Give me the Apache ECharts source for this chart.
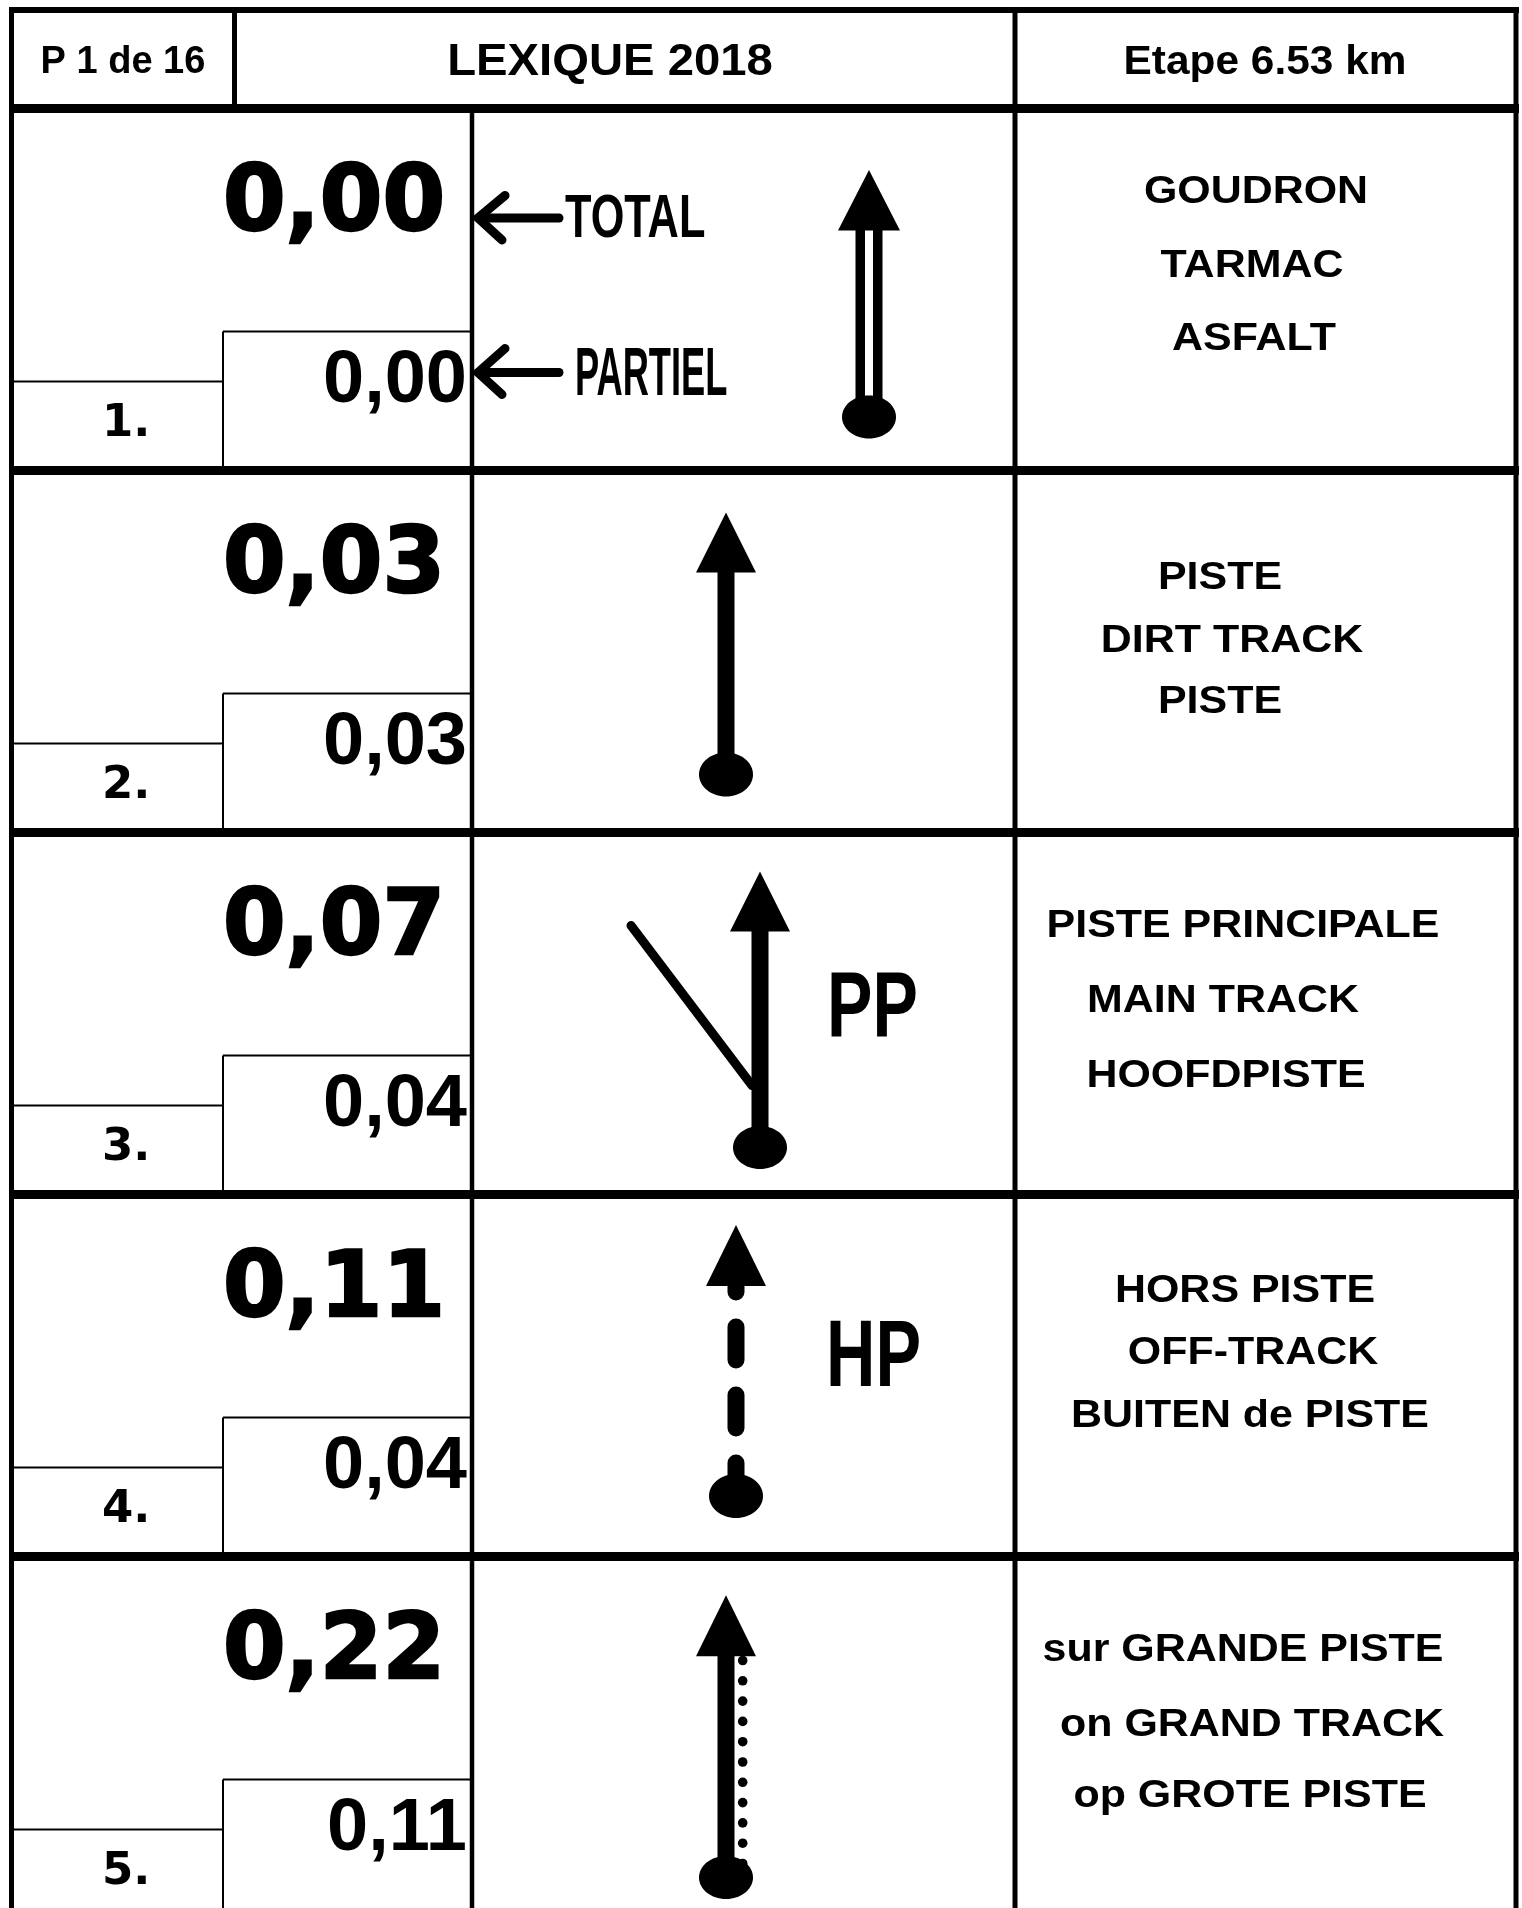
<!DOCTYPE html>
<html>
<head>
<meta charset="utf-8">
<title>LEXIQUE 2018</title>
<script src="https://cdn.jsdelivr.net/npm/echarts@6/dist/echarts.min.js"></script>
<style>
html, body { margin: 0; padding: 0; background: #fff; }
#main { width: 1522px; height: 1908px; }
</style>
</head>
<body>
<div id="main"></div>
<script>
// donnees du roadbook
var rowNumbers = ['1.', '2.', '3.', '4.', '5.'];
var totalKm = [0.00, 0.03, 0.07, 0.11, 0.22];
var partialKm = [0.00, 0.03, 0.04, 0.04, 0.11];
var roadTypes = ['goudron', 'piste', 'pistePrincipale', 'horsPiste', 'grandePiste'];
var roadCodes = ['', '', 'PP', 'HP', ''];
var descriptions = [
    ['GOUDRON', 'TARMAC', 'ASFALT'],
    ['PISTE', 'DIRT TRACK', 'PISTE'],
    ['PISTE PRINCIPALE', 'MAIN TRACK', 'HOOFDPISTE'],
    ['HORS PISTE', 'OFF-TRACK', 'BUITEN de PISTE'],
    ['sur GRANDE PISTE', 'on GRAND TRACK', 'op GROTE PISTE']
];
var headerTexts = ['P 1 de 16', 'LEXIQUE 2018', 'Etape 6.53 km'];
var legendTexts = ['TOTAL', 'PARTIEL'];

// mise en page des lignes de texte (centre x, decalage de la ligne de base)
var descLayout = [
    [[1256, 94.5], [1252, 168.5], [1254, 241.5]],
    [[1220, 119], [1232, 182], [1220, 243]],
    [[1243, 105], [1223, 180], [1226, 255]],
    [[1245, 107.5], [1253, 169.5], [1250, 232.5]],
    [[1243, 105], [1252, 180], [1250, 251]]
];

var TOP = 108.5;      // bas de l'entete
var PITCH = 362;      // hauteur d'une case
var DEJAVU = '"DejaVu Sans"';
var LIBER = '"Liberation Sans"';
// ecart entre milieu et ligne de base, par police
var MID = { '"DejaVu Sans"': 0.245, '"Liberation Sans"': 0.285 };

function km(v) {
    return v.toFixed(2).replace('.', ',');
}

function seg(x1, y1, x2, y2, w, extra) {
    var style = { stroke: '#000', lineWidth: w };
    for (var k in extra) { style[k] = extra[k]; }
    return { type: 'line', silent: true, shape: { x1: x1, y1: y1, x2: x2, y2: y2 }, style: style };
}

function txt(str, x, baseline, size, family, align, sx, heavy) {
    var style = {
        text: str, x: 0, y: 0, fill: '#000',
        font: 'bold ' + size + 'px ' + family,
        align: align, textAlign: align,
        verticalAlign: 'middle', textVerticalAlign: 'middle'
    };
    if (heavy) {
        style.stroke = '#000';
        style.lineWidth = heavy;
    }
    return {
        type: 'text', silent: true,
        x: x, y: baseline - MID[family] * size, scaleX: sx || 1,
        style: style
    };
}

function head(cx, tip, base, half) {
    return { type: 'polygon', silent: true, shape: { points: [[cx, tip], [cx - half, base], [cx + half, base]] }, style: { fill: '#000' } };
}

function knob(cx, cy, rx, ry) {
    return { type: 'ellipse', silent: true, shape: { cx: cx, cy: cy, rx: rx, ry: ry }, style: { fill: '#000' } };
}

function rect(x, y, w, h, color) {
    return { type: 'rect', silent: true, shape: { x: x, y: y, width: w, height: h }, style: { fill: color } };
}

// symbole de la case centrale
function roadSymbol(type, top, px) {
    var c = [];
    if (type === 'goudron') {
        var cx = px(869), dy = top + 308.5;
        c.push(rect(cx - 13.5, top + 120, 27, dy - top - 120, '#000'));
        c.push(rect(cx - 4, top + 121, 8, dy - top - 135, '#fff'));
        c.push(head(cx, top + 61.5, top + 122, 31));
        c.push(knob(cx, dy, 27, 21.5));
    } else if (type === 'piste') {
        var cx2 = px(726);
        c.push(seg(cx2, top + 100, cx2, top + 304, 17));
        c.push(head(cx2, top + 42, top + 102, 30));
        c.push(knob(cx2, top + 304, 27, 22));
    } else if (type === 'pistePrincipale') {
        var cx3 = px(760);
        c.push(seg(px(631), top + 93, px(752), top + 253, 9, { lineCap: 'round' }));
        c.push(seg(cx3, top + 97, cx3, top + 315, 17));
        c.push(head(cx3, top + 39, top + 99, 30));
        c.push(knob(cx3, top + 315, 27, 21.5));
    } else if (type === 'horsPiste') {
        var cx4 = px(736);
        c.push(seg(cx4, top + 64.5, cx4, top + 301.5, 17, { lineCap: 'round', lineDash: [33, 35] }));
        c.push(head(cx4, top + 30.5, top + 91.5, 30));
        c.push(knob(cx4, top + 301.5, 27, 22));
    } else if (type === 'grandePiste') {
        var cx5 = px(726);
        for (var d = 104; d < 312; d += 20.3) {
            c.push({ type: 'circle', silent: true, shape: { cx: px(742.7), cy: top + d, r: 4.8 }, style: { fill: '#000' } });
        }
        c.push(seg(cx5, top + 97, cx5, top + 321, 17));
        c.push(head(cx5, top + 38.7, top + 99.7, 30));
        c.push(knob(cx5, top + 321, 27, 21.5));
    }
    return c;
}

function renderRow(params, api) {
    var i = params.dataIndex;
    var top = api.coord([0, i])[1];
    var bottom = api.coord([0, i + 1])[1];
    var px = function (x) { return api.coord([x, i])[0]; };
    var c = [];

    // cadre de la case
    c.push(seg(px(11.5), top, px(11.5), bottom, 5));
    c.push(seg(px(472), top, px(472), bottom, 4.5));
    c.push(seg(px(1015), top, px(1015), bottom, 5));
    c.push(seg(px(1516), top, px(1516), bottom, 5));
    c.push(seg(px(223), top + 223, px(472), top + 223, 2));
    c.push(seg(px(223), top + 223, px(223), bottom, 2));
    c.push(seg(px(11.5), top + 273, px(223), top + 273, 2));
    c.push(seg(px(9), top, px(1519), top, 9));

    // distances
    c.push(txt(km(totalKm[i]), px(445), top + 120, 90, DEJAVU, 'right', 1, 2.5));
    c.push(txt(km(partialKm[i]), px(467), top + 294, 74, LIBER, 'right'));
    c.push(txt(rowNumbers[i], px(102), top + 327, 45, DEJAVU, 'left'));

    // legende TOTAL / PARTIEL sur la premiere case
    if (i === 0) {
        var round = { lineCap: 'round', lineJoin: 'miter' };
        c.push({ type: 'polyline', silent: true, shape: { points: [[px(505), top + 87], [px(478), top + 109.5], [px(502), top + 131.5]] }, style: { stroke: '#000', lineWidth: 9, fill: null, lineCap: 'round' } });
        c.push(seg(px(480), top + 109.5, px(559), top + 109.5, 9, round));
        c.push(txt(legendTexts[0], px(565), top + 129, 61, LIBER, 'left', 0.71));
        c.push({ type: 'polyline', silent: true, shape: { points: [[px(505), top + 240], [px(478), top + 264], [px(502), top + 286]] }, style: { stroke: '#000', lineWidth: 9, fill: null, lineCap: 'round' } });
        c.push(seg(px(480), top + 264, px(559), top + 264, 9, round));
        c.push(txt(legendTexts[1], px(575), top + 287, 69, LIBER, 'left', 0.525));
    }

    c = c.concat(roadSymbol(roadTypes[i], top, px));
    if (roadCodes[i] === 'PP') {
        c.push(txt(roadCodes[i], px(827), top + 205, 92, LIBER, 'left', 0.74));
    } else if (roadCodes[i]) {
        c.push(txt(roadCodes[i], px(826), top + 192, 95, LIBER, 'left', 0.72));
    }

    // description trilingue
    for (var k = 0; k < descriptions[i].length; k++) {
        var lay = descLayout[i][k];
        c.push(txt(descriptions[i][k], px(lay[0]), top + lay[1], 38, LIBER, 'center', 1.13));
    }

    return { type: 'group', children: c };
}

var myChart = echarts.init(document.getElementById('main'));
var option = {
    backgroundColor: '#fff',
    animation: false,
    grid: { left: 0, right: 0, top: TOP, bottom: 0 },
    xAxis: { type: 'value', min: 0, max: 1522, show: false },
    yAxis: { type: 'value', min: 0, max: (1908 - TOP) / PITCH, inverse: true, show: false },
    graphic: {
        elements: [
            seg(9, 10, 1519, 10, 6),
            seg(11.5, 10, 11.5, 108.5, 5),
            seg(234.5, 10, 234.5, 108.5, 5),
            seg(1015, 10, 1015, 108.5, 5),
            seg(1516, 10, 1516, 108.5, 5),
            txt(headerTexts[0], 123, 73, 38, LIBER, 'center'),
            txt(headerTexts[1], 610, 75, 45, LIBER, 'center', 1.05),
            txt(headerTexts[2], 1265, 74, 40, LIBER, 'center', 1.06)
        ]
    },
    series: [{
        type: 'custom',
        renderItem: renderRow,
        clip: false,
        encode: { x: 0, y: 1 },
        data: rowNumbers.map(function (n, i) { return [0, i]; })
    }]
};
myChart.setOption(option);
</script>
</body>
</html>
